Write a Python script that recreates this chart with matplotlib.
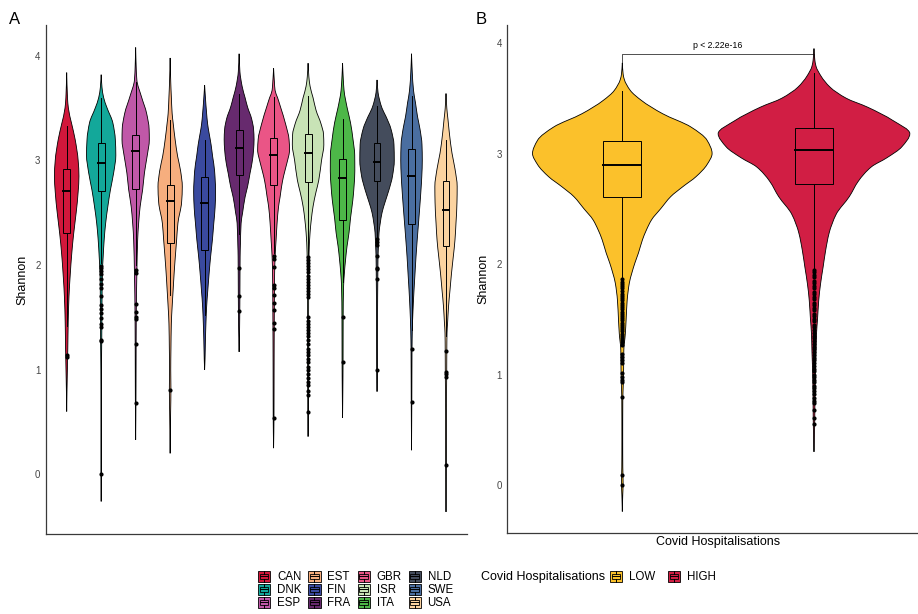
import numpy as np
import matplotlib.pyplot as plt
from matplotlib.path import Path
from matplotlib.patches import PathPatch, Rectangle
from matplotlib.lines import Line2D
from matplotlib.legend_handler import HandlerBase

plt.rcParams['font.family'] = ['Liberation Sans', 'DejaVu Sans']

# ---- Panel A: Shannon diversity by country ----
countries = ['CAN', 'DNK', 'ESP', 'EST', 'FIN', 'FRA', 'GBR', 'ISR', 'ITA', 'NLD', 'SWE', 'USA']
country_colors = ['#D2173B', '#13A89A', '#C058A8', '#F6AE7E', '#3A4A9F', '#672A6E',
                  '#EA5586', '#C8E3B6', '#4DB748', '#444C5C', '#4A6EA0', '#FBD3A0']

# violin outlines: (Shannon, relative density)
can_profile = [(3.84, 0), (3.6, 0.8), (3.5, 1.7), (3.35, 5), (3.2, 8.5), (3.0, 11.5), (2.85, 12.3),
               (2.7, 11.5), (2.5, 9.5), (2.3, 7), (2.1, 5), (1.9, 3.5), (1.7, 2.3), (1.45, 1.5),
               (1.2, 1.1), (1.0, 0.7), (0.8, 0.3), (0.6, 0)]
dnk_profile = [(3.82, 0), (3.7, 0.8), (3.6, 2.5), (3.5, 6), (3.36, 11.7), (3.2, 14.2), (3.05, 14.7),
               (2.88, 12.5), (2.72, 9.3), (2.56, 6.7), (2.4, 4.5), (2.24, 3), (2.08, 2), (1.92, 1.2),
               (1.6, 0.8), (1.3, 0.6), (1.0, 0.3), (0.5, 0.2), (0.0, 0.25), (-0.26, 0)]
esp_profile = [(4.08, 0), (3.9, 0.5), (3.77, 1.2), (3.61, 5.8), (3.45, 11), (3.3, 13.5), (3.2, 13.7),
               (3.04, 11.5), (2.88, 8.8), (2.72, 7), (2.56, 4.5), (2.4, 3), (2.24, 2), (1.92, 1.2),
               (1.5, 0.6), (1.0, 0.4), (0.7, 0.3), (0.33, 0)]
est_profile = [(3.98, 0), (3.75, 0.6), (3.61, 1.2), (3.45, 2), (3.36, 3), (3.2, 5), (3.04, 7.5),
               (2.9, 10.5), (2.75, 12.2), (2.6, 11.5), (2.4, 7.8), (2.24, 6.5), (2.08, 5.2), (1.92, 4),
               (1.76, 3), (1.6, 2), (1.44, 1.2), (1.2, 0.8), (1.0, 0.6), (0.81, 0.8), (0.6, 0.5), (0.2, 0)]
fin_profile = [(3.72, 0), (3.6, 0.8), (3.45, 2), (3.35, 3), (3.26, 4.5), (3.15, 6.5), (3.04, 8),
               (2.9, 10), (2.7, 11), (2.55, 10.5), (2.4, 9.2), (2.24, 7.8), (2.08, 6), (1.92, 4.5),
               (1.76, 3.2), (1.6, 2), (1.44, 1.3), (1.28, 0.8), (1.1, 0.4), (1.0, 0)]
fra_profile = [(4.02, 0), (3.85, 0.8), (3.71, 3), (3.6, 6), (3.51, 8.5), (3.4, 12.5), (3.3, 14.5),
               (3.2, 15), (3.1, 14.5), (2.98, 13), (2.88, 11), (2.75, 8.5), (2.65, 6), (2.5, 3.5),
               (2.4, 2), (2.2, 1.3), (2.08, 1), (1.7, 0.8), (1.4, 0.5), (1.17, 0)]
gbr_profile = [(3.88, 0), (3.75, 0.8), (3.67, 1.5), (3.6, 4), (3.51, 7), (3.35, 12), (3.2, 15.5),
               (3.1, 16), (2.98, 13.5), (2.85, 10), (2.75, 8), (2.65, 6.5), (2.56, 5), (2.4, 3.5),
               (2.24, 2.5), (2.08, 1.5), (1.9, 1), (1.5, 0.7), (1.0, 0.5), (0.54, 0.4), (0.25, 0)]
isr_profile = [(3.93, 0), (3.8, 0.8), (3.71, 2), (3.6, 5), (3.48, 8), (3.35, 13), (3.25, 15.5),
               (3.15, 15.8), (3.0, 13.5), (2.81, 10.7), (2.7, 8), (2.56, 5), (2.43, 3.2), (2.31, 2),
               (2.12, 1), (1.8, 0.6), (1.3, 0.5), (0.8, 0.4), (0.36, 0)]
ita_profile = [(3.93, 0), (3.8, 0.6), (3.67, 1.5), (3.5, 4.7), (3.36, 8), (3.2, 10.5), (3.05, 12.2),
               (2.9, 12.3), (2.75, 11.5), (2.62, 10.3), (2.45, 8), (2.31, 6.5), (2.18, 4.5), (2.05, 3),
               (1.92, 1.8), (1.79, 1), (1.5, 0.6), (1.07, 0.5), (0.8, 0.3), (0.54, 0)]
nld_profile = [(3.77, 0), (3.65, 1), (3.58, 2.5), (3.5, 5), (3.42, 9), (3.3, 14), (3.15, 17),
               (3.0, 17.3), (2.85, 15.5), (2.72, 12), (2.6, 8), (2.5, 5), (2.4, 3.2), (2.31, 2),
               (2.2, 1.5), (2.08, 1), (1.9, 0.8), (1.5, 0.5), (1.0, 0.4), (0.79, 0)]
swe_profile = [(4.02, 0), (3.85, 0.7), (3.67, 2), (3.55, 4), (3.42, 6), (3.3, 8.5), (3.15, 10.5),
               (3.0, 10.8), (2.85, 10.3), (2.72, 9.5), (2.56, 8.3), (2.4, 7), (2.24, 5.7), (2.08, 4.5),
               (1.92, 3.5), (1.76, 2.5), (1.57, 1.5), (1.38, 0.8), (1.2, 0.5), (0.7, 0.3), (0.23, 0)]
usa_profile = [(3.64, 0), (3.5, 0.8), (3.39, 2), (3.25, 3.5), (3.07, 6), (2.92, 9), (2.75, 11.2),
               (2.6, 11), (2.4, 10), (2.24, 9), (2.08, 7.3), (1.92, 5.5), (1.76, 4), (1.6, 2.5),
               (1.45, 1.6), (1.35, 1), (1.18, 0.8), (0.96, 0.7), (0.6, 0.4), (0.09, 0.3), (-0.36, 0)]

# box statistics, in country order
box_q1 = [2.31, 2.71, 2.73, 2.21, 2.14, 2.86, 2.77, 2.79, 2.43, 2.80, 2.39, 2.18]
box_median = [2.71, 2.98, 3.09, 2.61, 2.59, 3.12, 3.05, 3.07, 2.83, 2.99, 2.85, 2.53]
box_q3 = [2.92, 3.17, 3.24, 2.77, 2.84, 3.29, 3.21, 3.25, 3.01, 3.17, 3.11, 2.80]
whisker_low = [1.42, 2.02, 2.00, 1.71, 1.52, 2.30, 2.12, 2.10, 1.84, 2.27, 1.38, 1.32]
whisker_high = [3.33, 3.60, 3.75, 3.39, 3.20, 3.64, 3.61, 3.62, 3.40, 3.52, 3.62, 3.20]

can_outliers = [1.14, 1.12]
dnk_outliers = [1.99, 1.97, 1.94, 1.91, 1.87, 1.82, 1.78, 1.70, 1.62, 1.58, 1.54, 1.49, 1.44,
                1.41, 1.28, 1.27, 0.0]
esp_outliers = [1.95, 1.92, 1.63, 1.55, 1.50, 1.48, 1.25, 0.68]
est_outliers = [0.81]
fin_outliers = []
fra_outliers = [1.97, 1.70, 1.56]
gbr_outliers = [2.09, 2.06, 1.98, 1.81, 1.78, 1.71, 1.64, 1.57, 1.45, 1.39, 0.54]
isr_outliers = [2.08, 2.05, 2.02, 1.99, 1.96, 1.93, 1.90, 1.87, 1.84, 1.81, 1.78, 1.75, 1.72,
                1.69, 1.50, 1.47, 1.44, 1.41, 1.38, 1.35, 1.32, 1.28, 1.25, 1.20, 1.17, 1.14,
                1.10, 1.07, 1.03, 1.00, 0.96, 0.92, 0.88, 0.85, 0.80, 0.76, 0.60]
ita_outliers = [1.50, 1.07]
nld_outliers = [2.25, 2.22, 2.19, 2.09, 1.97, 1.96, 1.87, 1.00]
swe_outliers = [1.20, 0.69]
usa_outliers = [1.18, 0.98, 0.96, 0.93, 0.09]

# ---- Panel B: Shannon diversity by hospitalisation level ----
hosp_groups = ['LOW', 'HIGH']
hosp_colors = ['#FBC12B', '#D11E44']
low_profile = [(3.82, 0), (3.72, 0.8), (3.67, 2), (3.57, 8), (3.48, 19), (3.36, 40), (3.24, 68),
               (3.12, 84), (3.0, 89), (2.9, 84), (2.79, 73), (2.7, 60), (2.61, 48), (2.5, 38),
               (2.4, 29), (2.31, 24), (2.22, 20), (2.1, 16), (2.01, 12.5), (1.92, 9.5), (1.83, 7),
               (1.67, 4.8), (1.5, 3.8), (1.37, 3), (1.22, 1.5), (1.05, 1.3), (0.92, 1), (0.77, 0.5),
               (0.4, 0.4), (0.16, 0.5), (0.02, 0.8), (-0.1, 0.4), (-0.24, 0)]
high_profile = [(3.95, 0), (3.85, 0.8), (3.79, 2), (3.7, 7), (3.6, 16), (3.5, 32), (3.42, 53),
                (3.3, 78), (3.18, 95), (3.06, 87), (2.96, 72), (2.88, 57), (2.75, 44), (2.61, 35),
                (2.45, 22), (2.28, 15), (2.12, 11.5), (1.97, 9), (1.82, 6.5), (1.67, 4.7), (1.5, 3.5),
                (1.37, 2.5), (1.2, 2), (1.07, 1.5), (0.85, 1), (0.62, 0.8), (0.47, 0.5), (0.3, 0)]
hosp_q1 = [2.61, 2.72]
hosp_median = [2.90, 3.03]
hosp_q3 = [3.11, 3.23]
hosp_whisker_low = [1.87, 1.96]
hosp_whisker_high = [3.57, 3.73]
low_outliers = [1.86, 1.84, 1.82, 1.80, 1.78, 1.76, 1.73, 1.71, 1.69, 1.67, 1.65, 1.63, 1.61,
                1.59, 1.57, 1.55, 1.53, 1.51, 1.49, 1.47, 1.45, 1.43, 1.41, 1.39, 1.37, 1.35,
                1.33, 1.31, 1.29, 1.27, 1.19, 1.16, 1.13, 1.10, 1.01, 0.98, 0.95, 0.93, 0.80,
                0.09, 0.0]
high_outliers = [1.95, 1.93, 1.90, 1.88, 1.85, 1.83, 1.80, 1.78, 1.75, 1.73, 1.70, 1.68, 1.65,
                 1.63, 1.60, 1.58, 1.55, 1.53, 1.50, 1.48, 1.45, 1.43, 1.40, 1.38, 1.35, 1.33,
                 1.30, 1.28, 1.25, 1.23, 1.20, 1.18, 1.15, 1.13, 1.10, 1.08, 1.05, 1.03, 1.00,
                 0.98, 0.95, 0.93, 0.90, 0.88, 0.85, 0.82, 0.79, 0.76, 0.74, 0.68, 0.61, 0.55]
p_label = 'p < 2.22e-16'


def monotone_slopes(x, y):
    # Fritsch-Carlson tangents so the outline never overshoots
    h = np.diff(x)
    d = np.diff(y) / h
    m = np.zeros_like(y)
    m[0], m[-1] = d[0], d[-1]
    for k in range(1, len(y) - 1):
        if d[k - 1] * d[k] > 0:
            w1 = 2 * h[k] + h[k - 1]
            w2 = h[k] + 2 * h[k - 1]
            m[k] = (w1 + w2) / (w1 / d[k - 1] + w2 / d[k])
    return m


def violin_path(center, profile, scale):
    arr = np.array(sorted(profile), dtype=float)
    y, w = arr[:, 0], arr[:, 1] * scale
    m = monotone_slopes(y, w)
    h = np.diff(y)
    verts = [(center + w[0], y[0])]
    codes = [Path.MOVETO]
    for k in range(len(y) - 1):
        verts += [(center + w[k] + m[k] * h[k] / 3, y[k] + h[k] / 3),
                  (center + w[k + 1] - m[k + 1] * h[k] / 3, y[k + 1] - h[k] / 3),
                  (center + w[k + 1], y[k + 1])]
        codes += [Path.CURVE4] * 3
    for k in range(len(y) - 1, 0, -1):
        verts += [(center - (w[k] - m[k] * h[k - 1] / 3), y[k] - h[k - 1] / 3),
                  (center - (w[k - 1] + m[k - 1] * h[k - 1] / 3), y[k - 1] + h[k - 1] / 3),
                  (center - w[k - 1], y[k - 1])]
        codes += [Path.CURVE4] * 3
    verts.append(verts[0])
    codes.append(Path.CLOSEPOLY)
    return Path(verts, codes)


def draw_group(ax, pos, color, profile, scale, q1, med, q3, wlo, whi, outliers):
    ax.add_patch(PathPatch(violin_path(pos, profile, scale), facecolor=color,
                           edgecolor='black', lw=0.6, zorder=2))
    bw = 0.2
    ax.plot([pos, pos], [wlo, q1], color='black', lw=0.7, zorder=3)
    ax.plot([pos, pos], [q3, whi], color='black', lw=0.7, zorder=3)
    ax.add_patch(Rectangle((pos - bw / 2, q1), bw, q3 - q1, facecolor=color,
                           edgecolor='black', lw=0.7, zorder=3))
    ax.plot([pos - bw / 2, pos + bw / 2], [med, med], color='black', lw=1.4, zorder=4)
    if outliers:
        ax.plot(np.full(len(outliers), pos), outliers, 'o', color='black', ms=3.0,
                mew=0, zorder=5)


def style_axes(ax):
    for side in ['top', 'right']:
        ax.spines[side].set_visible(False)
    for side in ['left', 'bottom']:
        ax.spines[side].set_color('#3a3a3a')
        ax.spines[side].set_linewidth(0.9)
    ax.set_xticks([])
    ax.set_yticks([0, 1, 2, 3, 4])
    ax.tick_params(axis='y', length=0, pad=4, labelsize=7, labelcolor='#444444')


class BoxKeyHandler(HandlerBase):
    def create_artists(self, legend, orig_handle, xdescent, ydescent, width, height,
                       fontsize, trans):
        color = orig_handle.get_facecolor()
        x0, y0 = -xdescent, -ydescent
        kw = dict(color='black', lw=0.7, transform=trans)
        return [
            Rectangle((x0, y0), width, height, facecolor=color, edgecolor='black',
                      lw=0.6, transform=trans),
            Rectangle((x0 + 0.15 * width, y0 + 0.25 * height), 0.7 * width, 0.5 * height,
                      facecolor=color, edgecolor='black', lw=0.6, transform=trans),
            Line2D([x0 + 0.15 * width, x0 + 0.85 * width], [y0 + 0.5 * height] * 2, **kw),
            Line2D([x0 + 0.5 * width] * 2, [y0 + 0.75 * height, y0 + height], **kw),
            Line2D([x0 + 0.5 * width] * 2, [y0, y0 + 0.25 * height], **kw),
        ]


W, H = 918, 614
fig = plt.figure(figsize=(W / 100, H / 100), dpi=100)

ax_a = fig.add_axes([46 / W, (H - 534) / H, 420.7 / W, 509 / H])
ax_b = fig.add_axes([507.3 / W, (H - 533.3) / H, 421.7 / W, 508.3 / H])

profiles_a = [can_profile, dnk_profile, esp_profile, est_profile, fin_profile, fra_profile,
              gbr_profile, isr_profile, ita_profile, nld_profile, swe_profile, usa_profile]
outliers_a = [can_outliers, dnk_outliers, esp_outliers, est_outliers, fin_outliers, fra_outliers,
              gbr_outliers, isr_outliers, ita_outliers, nld_outliers, swe_outliers, usa_outliers]
scale_a = 0.5 / max(d for p in profiles_a for _, d in p)
for i, name in enumerate(countries):
    draw_group(ax_a, i + 1, country_colors[i], profiles_a[i], scale_a, box_q1[i],
               box_median[i], box_q3[i], whisker_low[i], whisker_high[i], outliers_a[i])
ax_a.set_xlim(0.4, len(countries) + 0.6)
ax_a.set_ylim(-0.571, 4.295)
style_axes(ax_a)
ax_a.set_ylabel('Shannon', fontsize=9, labelpad=5)

profiles_b = [low_profile, high_profile]
outliers_b = [low_outliers, high_outliers]
scale_b = 0.5 / max(d for p in profiles_b for _, d in p)
for i, name in enumerate(hosp_groups):
    draw_group(ax_b, i + 1, hosp_colors[i], profiles_b[i], scale_b, hosp_q1[i],
               hosp_median[i], hosp_q3[i], hosp_whisker_low[i], hosp_whisker_high[i],
               outliers_b[i])
ax_b.set_xlim(0.4, 2.6)
ax_b.set_ylim(-0.437, 4.163)
style_axes(ax_b)
ax_b.set_ylabel('Shannon', fontsize=9, labelpad=5)
ax_b.set_xlabel('Covid Hospitalisations', fontsize=9, labelpad=2)

# significance bracket
ax_b.plot([1, 1, 2, 2], [3.82, 3.90, 3.90, 3.82], color='#333333', lw=0.6, zorder=1)
ax_b.text(1.5, 3.935, p_label, ha='center', va='bottom', fontsize=6.3)

fig.text(9 / W, 1 - 12 / H, 'A', fontsize=12, va='top', ha='left')
fig.text(476 / W, 1 - 12 / H, 'B', fontsize=12, va='top', ha='left')

# legends
country_handles = [Rectangle((0, 0), 1, 1, facecolor=c) for c in country_colors]
fig.legend(country_handles, countries, ncol=4, loc='upper left',
           bbox_to_anchor=(258 / W, 1 - 571 / H), frameon=False, fontsize=8.3,
           handlelength=1.05, handleheight=1.05, handletextpad=0.6, columnspacing=0.6,
           labelspacing=0.06, borderpad=0, borderaxespad=0,
           handler_map={Rectangle: BoxKeyHandler()})

hosp_handles = [Rectangle((0, 0), 1, 1, facecolor=c) for c in hosp_colors]
fig.text(481 / W, 1 - 577 / H, 'Covid Hospitalisations', fontsize=9, va='center', ha='left')
fig.legend(hosp_handles, hosp_groups, ncol=2, loc='upper left',
           bbox_to_anchor=(610 / W, 1 - 571 / H), frameon=False, fontsize=8.3,
           handlelength=1.05, handleheight=1.05, handletextpad=0.6, columnspacing=1.1,
           borderpad=0, borderaxespad=0, handler_map={Rectangle: BoxKeyHandler()})

fig.savefig('out.png', dpi=100)
